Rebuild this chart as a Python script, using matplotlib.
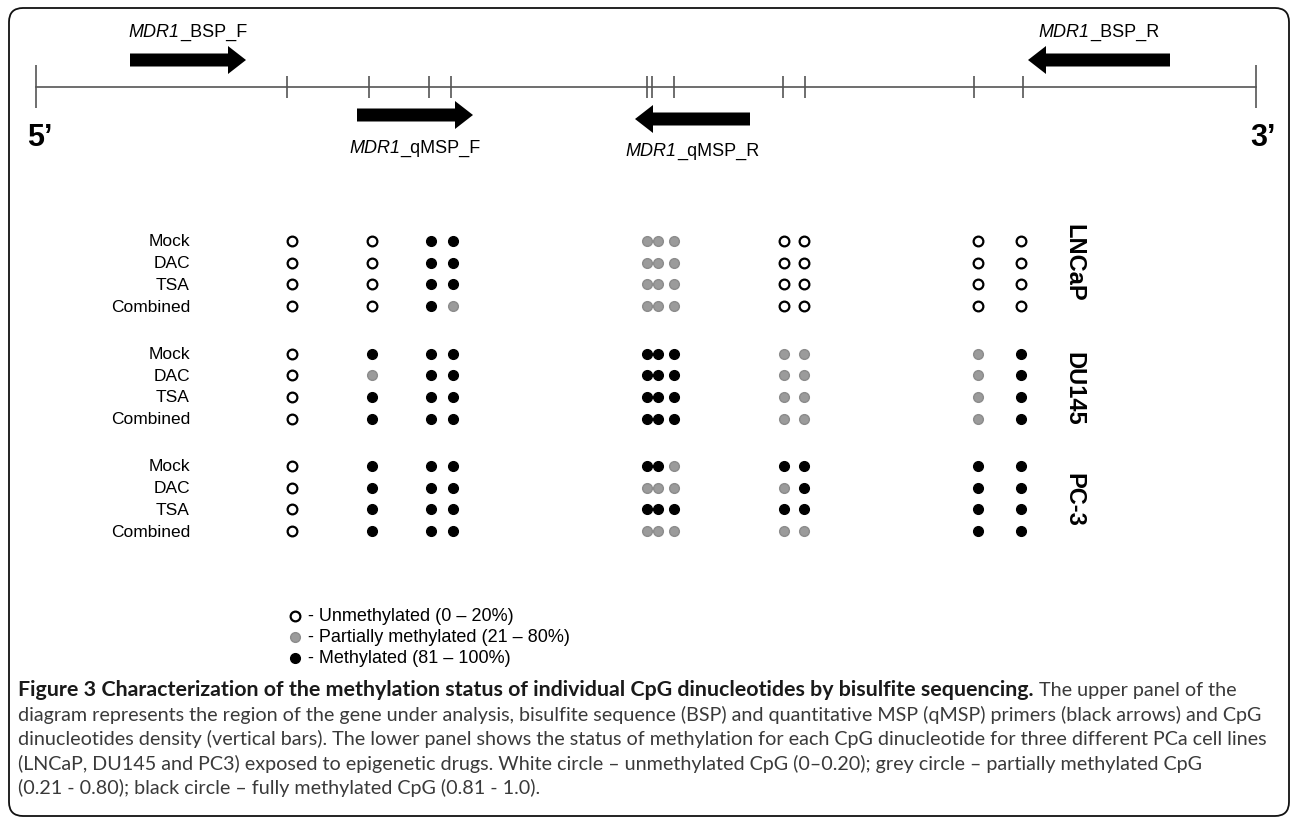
import matplotlib
matplotlib.use('Agg')
import matplotlib.pyplot as plt
from matplotlib.patches import FancyArrow, FancyBboxPatch

plt.rcParams['font.family'] = ['Liberation Sans', 'DejaVu Sans']

# CpG sites along the analysed MDR1 fragment (diagram units)
cpg_sites = [287, 369, 429, 451, 647, 652, 674, 783, 805, 974, 1023]
# column where each CpG is drawn in the lower panel (close sites spread apart)
dot_cols = [292, 372, 431, 453, 647, 658, 674, 784, 804, 978, 1021]
region = [36, 1256]

primer_names = ['BSP_F', 'qMSP_F', 'qMSP_R', 'BSP_R']
primer_start = [130, 357, 750, 1170]
primer_end = [246, 473, 635, 1028]
primer_side = ['above', 'below', 'below', 'above']

treatments = ['Mock', 'DAC', 'TSA', 'Combined']
cell_lines = ['LNCaP', 'DU145', 'PC-3']

# 0 = unmethylated, 1 = partially methylated, 2 = methylated
lncap = [[0, 0, 2, 2, 1, 1, 1, 0, 0, 0, 0],
         [0, 0, 2, 2, 1, 1, 1, 0, 0, 0, 0],
         [0, 0, 2, 2, 1, 1, 1, 0, 0, 0, 0],
         [0, 0, 2, 1, 1, 1, 1, 0, 0, 0, 0]]
du145 = [[0, 2, 2, 2, 2, 2, 2, 1, 1, 1, 2],
         [0, 1, 2, 2, 2, 2, 2, 1, 1, 1, 2],
         [0, 2, 2, 2, 2, 2, 2, 1, 1, 1, 2],
         [0, 2, 2, 2, 2, 2, 2, 1, 1, 1, 2]]
pc3 = [[0, 2, 2, 2, 2, 2, 1, 2, 2, 2, 2],
       [0, 2, 2, 2, 1, 1, 1, 1, 2, 2, 2],
       [0, 2, 2, 2, 2, 2, 2, 2, 2, 2, 2],
       [0, 2, 2, 2, 1, 1, 1, 1, 1, 2, 2]]
status = [lncap, du145, pc3]

legend_labels = ['- Unmethylated (0 \u2013 20%)',
                 '- Partially methylated (21 \u2013 80%)',
                 '- Methylated (81 \u2013 100%)']

caption_bold = ('Figure 3 Characterization of the methylation status of individual '
                'CpG dinucleotides by bisulfite sequencing.')
caption_lines = [
    ' The upper panel of the',
    'diagram represents the region of the gene under analysis, bisulfite sequence (BSP) '
    'and quantitative MSP (qMSP) primers (black arrows) and CpG',
    'dinucleotides density (vertical bars). The lower panel shows the status of methylation '
    'for each CpG dinucleotide for three different PCa cell lines',
    '(LNCaP, DU145 and PC3) exposed to epigenetic drugs. White circle \u2013 unmethylated '
    'CpG (0\u20130.20); grey circle \u2013 partially methylated CpG',
    '(0.21 - 0.80); black circle \u2013 fully methylated CpG (0.81 - 1.0).',
]

face = {0: 'white', 1: '#9b9b9b', 2: 'black'}
edge = {0: 'black', 1: '#8c8c8c', 2: 'black'}

fig = plt.figure(figsize=(12.92, 8.2), dpi=100)
ax = fig.add_axes([0, 0, 1, 1])
ax.set_xlim(0, 1292)
ax.set_ylim(820, 0)
ax.axis('off')
r = fig.canvas.get_renderer()


def rich_text(x, y, parts, ha='left', size=13):
    # pieces of text with different styles laid out on one baseline
    texts = []
    for s, p in parts:
        kw = {'fontsize': size, 'color': 'black', 'va': 'baseline'}
        kw.update(p)
        texts.append(ax.text(0, y, s, **kw))
    widths = [t.get_window_extent(r).width for t in texts]
    x0 = x - sum(widths) / 2 if ha == 'center' else x
    for t, w in zip(texts, widths):
        t.set_x(x0)
        x0 += w
    return sum(widths)


def fit_size(txt, width, **kw):
    probe = ax.text(0, 0, txt, fontsize=12, **kw)
    w = probe.get_window_extent(r).width
    probe.remove()
    return 12 * width / w


# frame
ax.add_patch(FancyBboxPatch((9, 9), 1280, 808, boxstyle='round,pad=0,rounding_size=14',
                            fill=False, ec='#111111', lw=1.3))

# gene region with CpG sites
line_y = 88
ax.plot(region, [line_y, line_y], color='#555555', lw=1.2)
ax.vlines(region, line_y - 22, line_y + 21, color='#555555', lw=1.2)
ax.vlines(cpg_sites, line_y - 11, line_y + 11, color='#555555', lw=1.2)
ax.text(region[0] - 9, 138, '5\u2019', fontsize=22, fontweight='bold', ha='left', va='center')
ax.text(region[1] + 20, 138, '3\u2019', fontsize=22, fontweight='bold', ha='right', va='center')

# primers
for name, x0, x1, side in zip(primer_names, primer_start, primer_end, primer_side):
    ay = 61 if side == 'above' else (116 if x1 > x0 else 120)
    ax.add_patch(FancyArrow(x0, ay, x1 - x0, 0, width=13, head_width=28, head_length=18,
                            length_includes_head=True, color='black', lw=0))
    ly = 37 if side == 'above' else (153 if x1 > x0 else 156)
    rich_text((x0 + x1) / 2, ly, [('MDR1', {'style': 'italic'}), ('_' + name, {})],
              ha='center', size=13)

# methylation status per CpG
row_gap = 21.7
group_gap = 112.5
label_shift = [-12, 2, 0]
for g, line in enumerate(cell_lines):
    top = 242 + g * group_gap
    for i, tr in enumerate(treatments):
        y = top + i * row_gap
        ax.text(190, y, tr, fontsize=12.5, ha='right', va='center')
        for xc, s in zip(dot_cols, status[g][i]):
            ax.plot(xc, y, 'o', ms=7, mfc=face[s], mec=edge[s], mew=1.6 if s == 0 else 1)
    ax.text(1074, top + 1.5 * row_gap + label_shift[g], line, fontsize=17, fontweight='bold',
            rotation=270, ha='center', va='center')

# legend
for k, lab in enumerate(legend_labels):
    y = 617 + k * 21
    ax.plot(295, y, 'o', ms=7, mfc=face[k], mec=edge[k], mew=1.6 if k == 0 else 1)
    ax.text(308, y, lab, fontsize=13, ha='left', va='center')

# caption
cap_font = ['Lato', 'DejaVu Sans']
cap_size = fit_size(caption_lines[1], 1244, family=cap_font)
bold_size = fit_size(caption_bold, 1007, family=cap_font, fontweight='bold')
cap_y = 696
bold = ax.text(18, cap_y, caption_bold, fontsize=bold_size, fontweight='bold',
               family=cap_font, color='#1a1a1a', va='baseline')
bx = 18 + bold.get_window_extent(r).width
ax.text(bx, cap_y, caption_lines[0], fontsize=cap_size, family=cap_font,
        color='#3a3a3a', va='baseline')
for k, txt in enumerate(caption_lines[1:]):
    ax.text(18, cap_y + (k + 1) * 24.6, txt, fontsize=cap_size, family=cap_font,
            color='#3a3a3a', va='baseline')

fig.savefig('out.png', dpi=100)
